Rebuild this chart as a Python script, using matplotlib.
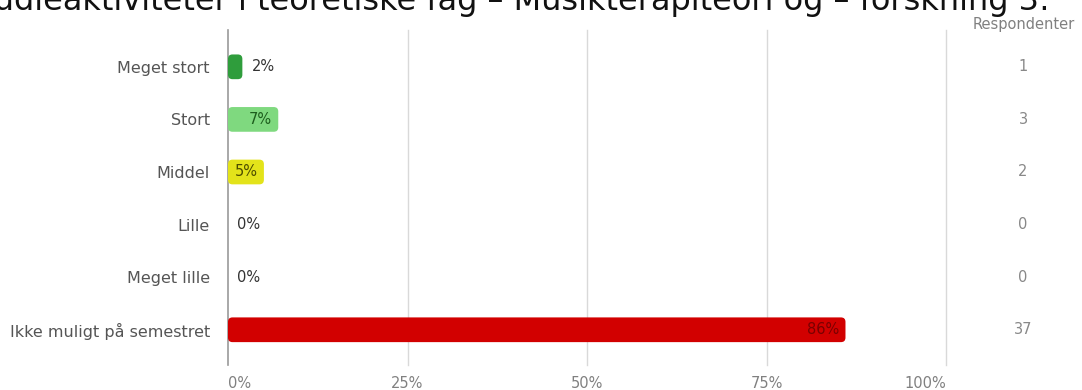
import matplotlib
matplotlib.use("Agg")
import matplotlib.pyplot as plt
from matplotlib.patches import FancyBboxPatch
from matplotlib.transforms import blended_transform_factory

# Survey answers
categories = ["Meget stort", "Stort", "Middel", "Lille", "Meget lille", "Ikke muligt på semestret"]
percent = [2, 7, 5, 0, 0, 86]
respondents = [1, 3, 2, 0, 0, 37]
bar_colors = ["#2f9d3c", "#7fd97f", "#e3e31a", "#cccccc", "#cccccc", "#d20000"]
label_colors = ["#333333", "#1d5e1d", "#4d4d00", "#333333", "#333333", "#7a0000"]
label_inside = [False, True, True, False, False, True]
xticks = [0, 25, 50, 75, 100]
xtick_labels = ["0%", "25%", "50%", "75%", "100%"]
title = "Studieaktiviteter i teoretiske fag – Musikterapiteori og – forskning 3:"

FONT = "DejaVu Sans"
W, H, DPI = 1082, 390, 100
fig = plt.figure(figsize=(W / DPI, H / DPI), dpi=DPI)
ax = fig.add_axes([228 / W, 25 / H, 718 / W, 335 / H])

ax.set_xlim(0, 100)
ax.set_ylim(len(categories) - 0.33, -0.7)

bar_h = 0.47
px_per_x = 718 / 100
px_per_y = 335 / (len(categories) - 0.33 + 0.7)
radius_px = 4.5
aspect = px_per_x / px_per_y

for i, (v, c) in enumerate(zip(percent, bar_colors)):
    if v > 0:
        p = FancyBboxPatch((0, i - bar_h / 2), v, bar_h,
                           boxstyle=f"round,pad=0,rounding_size={radius_px / px_per_x}",
                           mutation_aspect=aspect,
                           facecolor=c, edgecolor="none", zorder=3)
        ax.add_patch(p)
    txt = f"{v}%"
    if label_inside[i]:
        ax.text(v - 0.9, i, txt, ha="right", va="center", fontsize=10.5,
                color=label_colors[i], family=FONT, zorder=4)
    else:
        ax.text(v + 1.3, i, txt, ha="left", va="center", fontsize=10.5,
                color=label_colors[i], family=FONT, zorder=4)

# Grid and axes
for x in xticks[1:]:
    ax.axvline(x, color="#d9d9d9", lw=1, zorder=1, clip_on=False)
ax.axvline(0, color="#9a9a9a", lw=1.2, zorder=2, clip_on=False)
for s in ax.spines.values():
    s.set_visible(False)
ax.set_xticks(xticks)
ax.set_xticklabels(xtick_labels, family=FONT, fontsize=10.5, color="#808080")
xt = ax.get_xticklabels()
xt[0].set_ha("left")
xt[-1].set_ha("right")
ax.set_yticks(range(len(categories)))
ax.set_yticklabels(categories, family=FONT, fontsize=11.5, color="#555555")
ax.tick_params(axis="both", length=0)
ax.tick_params(axis="y", pad=13)
ax.tick_params(axis="x", pad=8)

# Respondent counts column
tr = blended_transform_factory(fig.transFigure, ax.transData)
for i, n in enumerate(respondents):
    ax.text(1023 / W, i, str(n), transform=tr, ha="center", va="center",
            fontsize=10.5, color="#888888", family=FONT)
fig.text(1024 / W, 1 - 24 / H, "Respondenter", ha="center", va="center",
         fontsize=10.5, color="#808080", family=FONT)

fig.text(1050 / W, 1 - 10 / H, title, ha="right", va="baseline",
         fontsize=23, color="#111111", family=FONT)

fig.savefig("out.png", dpi=DPI)
